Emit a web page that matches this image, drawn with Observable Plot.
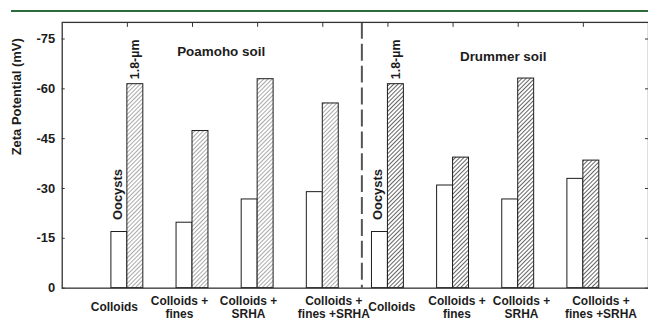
<!DOCTYPE html>
<html><head><meta charset="utf-8">
<script src="https://cdn.jsdelivr.net/npm/d3@7"></script>
<script src="https://cdn.jsdelivr.net/npm/@observablehq/plot@0.6"></script>
<style>
html,body{margin:0;padding:0;background:#fff;overflow:hidden;width:648px;height:319px;}
#wrap{position:relative;width:648px;height:319px;overflow:hidden;}
#greenline{position:absolute;left:11px;top:9.5px;width:637px;height:2.5px;background:#2d6b3c;}
#chart{position:absolute;left:0;top:0;}
</style></head><body><div id="wrap"><div id="greenline"></div><div id="chart"></div></div>
<script>
// ---- data ----
const soils = ["Poamoho soil", "Drummer soil"];
const treatments = ["Colloids", "Colloids +\nfines", "Colloids +\nSRHA", "Colloids +\nfines +SRHA"];
const oocysts = [-16.9, -19.7, -26.7, -28.9, -16.9, -30.9, -26.7, -32.9];
const micro18 = [-61.4, -47.3, -62.9, -55.6, -61.4, -39.3, -63.1, -38.4];
const yTicks = [0, -15, -30, -45, -60, -75];

// ---- layout helpers ----
const labelShift = [-0.2, -0.2, -0.14, 0.17, 0.06, 0.06, 0.05, 0.27];
const barW = 0.245;
const rows = [];
soils.forEach((s, si) => treatments.forEach((t, ti) => {
  const k = si * 4 + ti;
  rows.push({soil: s, si, treatment: t, pos: k + 1, oocyst: oocysts[k], micro: micro18[k], shift: labelShift[k]});
}));
const soilLabels = [{text: soils[0], x: 2.44, y: -71.1}, {text: soils[1], x: 6.77, y: -69.7}];
const divider = [4.6];
const font = "Liberation Sans, Arial, Helvetica, sans-serif";
const ink = "#1c1c1c";

const plot = Plot.plot({
  width: 651, height: 319,
  marginLeft: 62, marginRight: 0, marginTop: 22, marginBottom: 30,
  style: {fontFamily: font, fontWeight: "bold", color: ink, background: "transparent"},
  x: {domain: [0, 9], axis: null},
  y: {domain: [0, -80], axis: null},
  marks: [
    Plot.ruleX(divider, {x: d => d, stroke: "#555", strokeWidth: 2, strokeDasharray: "17,5"}),
    Plot.rect(rows, {x1: d => d.pos - barW, x2: d => d.pos, y1: 0, y2: d => d.oocyst, fill: "white", stroke: ink, strokeWidth: 1}),
    Plot.rect(rows.filter(d => d.si === 0), {x1: d => d.pos, x2: d => d.pos + barW, y1: 0, y2: d => d.micro, fill: "url(#hatchP)", stroke: ink, strokeWidth: 1}),
    Plot.rect(rows.filter(d => d.si === 1), {x1: d => d.pos, x2: d => d.pos + barW, y1: 0, y2: d => d.micro, fill: "url(#hatchD)", stroke: ink, strokeWidth: 1}),
    Plot.frame({stroke: "#333", strokeWidth: 1.3}),
    Plot.axisY({anchor: "left", ticks: yTicks, tickSize: 0, tickPadding: 7, tickFormat: d => String(d), fontSize: 13, fontWeight: "bold", label: null}),
    Plot.axisY({anchor: "left", ticks: yTicks, tickSize: -3, tickFormat: () => "", label: null, stroke: "#333"}),
    Plot.axisY({anchor: "right", ticks: yTicks, tickSize: -4, tickFormat: () => "", label: null, stroke: "#333"}),
    Plot.axisX({anchor: "top", ticks: rows.map(d => d.pos), tickSize: -4, tickFormat: () => "", label: null, stroke: "#333"}),
    Plot.text(rows, {x: d => d.pos + d.shift, y: 0, text: "treatment", dy: 19, lineAnchor: "middle", lineHeight: 1.15, fontSize: 12, fontWeight: "bold", fill: ink}),
    Plot.text(rows.filter(d => d.pos === 1 || d.pos === 5), {x: d => d.pos - barW / 2, y: "oocyst", text: () => "Oocysts", rotate: -90, textAnchor: "start", dx: -2, dy: -12, fontSize: 13, fontWeight: "bold", fill: ink}),
    Plot.text(rows.filter(d => d.pos === 1 || d.pos === 5), {x: d => d.pos + barW / 2, y: "micro", text: () => "1.8-µm", rotate: -90, textAnchor: "start", dy: -5, fontSize: 12.5, fontWeight: "bold", fill: ink}),
    Plot.text(soilLabels, {x: "x", y: "y", text: "text", fontSize: 13.5, fontWeight: "bold", fill: ink}),
    Plot.text(["Zeta Potential (mV)"], {frameAnchor: "left", rotate: -90, dx: -46, fontSize: 13, fontWeight: "bold", fill: ink})
  ]
});
plot.insertAdjacentHTML("afterbegin", `<defs>
<pattern id="hatchP" patternUnits="userSpaceOnUse" width="3" height="3" patternTransform="rotate(45)">
<rect width="3" height="3" fill="white"/><line x1="0" y1="0" x2="0" y2="3" stroke="#555" stroke-width="1"/></pattern>
<pattern id="hatchD" patternUnits="userSpaceOnUse" width="3" height="3" patternTransform="rotate(45)">
<rect width="3" height="3" fill="white"/><line x1="0" y1="0" x2="0" y2="3" stroke="#111" stroke-width="1.3"/></pattern>
</defs>`);
document.getElementById("chart").appendChild(plot);
</script></body></html>
